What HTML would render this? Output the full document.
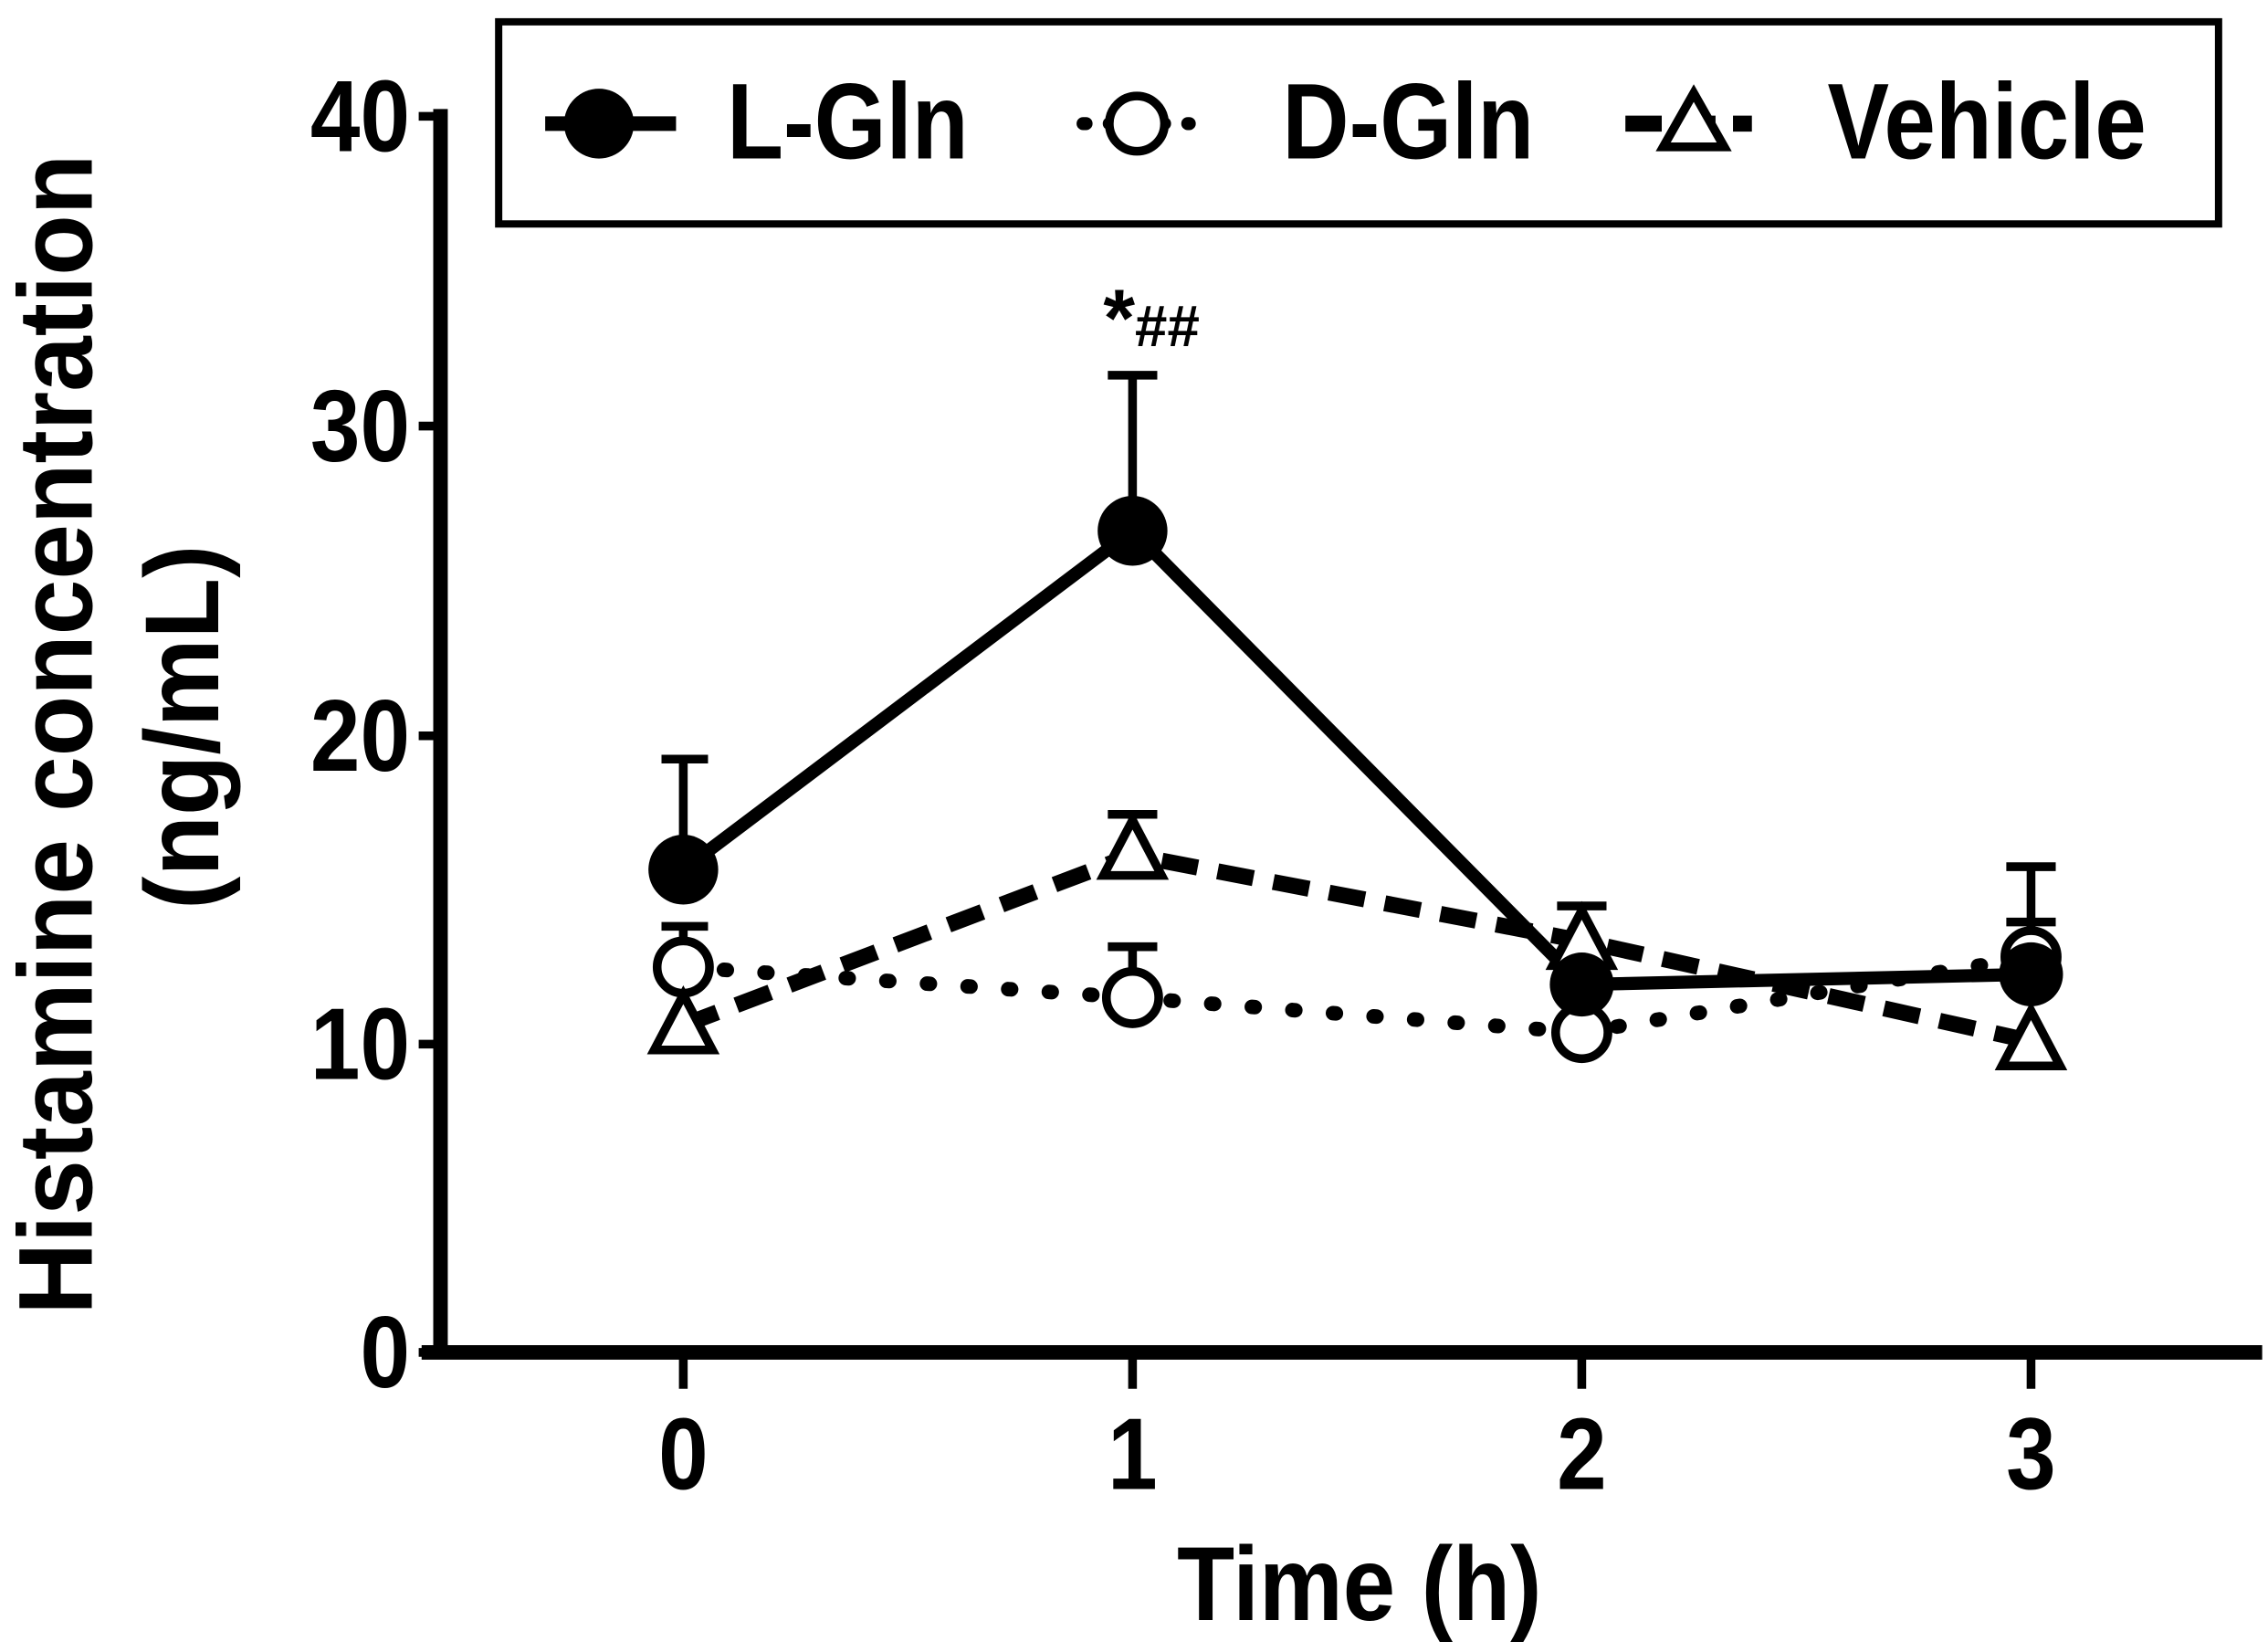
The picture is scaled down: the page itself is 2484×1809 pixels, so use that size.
<!DOCTYPE html>
<html><head><style>html,body{margin:0;padding:0;background:#fff}svg{display:block}</style></head>
<body>
<svg width="2484" height="1809" viewBox="0 0 1560 1136" preserveAspectRatio="none" xmlns="http://www.w3.org/2000/svg" font-family="Liberation Sans, sans-serif" font-weight="bold">
<rect width="1560" height="1136" fill="#fff"/>
<!-- legend -->
<rect x="343" y="15" width="1183" height="139" fill="none" stroke="#000" stroke-width="5"/>
<line x1="375" y1="85" x2="465" y2="85" stroke="#000" stroke-width="10"/>
<circle cx="412" cy="85" r="24" fill="#000"/>
<text x="500" y="109" font-size="74" transform="translate(500,0) scale(0.86,1) translate(-500,0)">L-Gln</text>
<line x1="745" y1="85" x2="818" y2="85" stroke="#000" stroke-width="9" stroke-dasharray="2 16" stroke-linecap="round"/>
<circle cx="782" cy="85" r="19" fill="#fff" stroke="#000" stroke-width="6"/>
<text x="882" y="109" font-size="74" transform="translate(882,0) scale(0.86,1) translate(-882,0)">D-Gln</text>
<line x1="1118" y1="85" x2="1205" y2="85" stroke="#000" stroke-width="11" stroke-dasharray="25 12"/>
<polygon points="1165,64 1186,101 1144,101" fill="#fff" stroke="#000" stroke-width="6"/>
<text x="1257" y="109" font-size="74" transform="translate(1257,0) scale(0.86,1) translate(-1257,0)">Vehicle</text>
<!-- axes -->
<line x1="303" y1="75" x2="303" y2="934" stroke="#000" stroke-width="10"/>
<line x1="290" y1="930" x2="1556" y2="930" stroke="#000" stroke-width="10"/>
<g stroke="#000" stroke-width="6">
<line x1="288" y1="80" x2="303" y2="80"/><line x1="288" y1="293" x2="303" y2="293"/><line x1="288" y1="506" x2="303" y2="506"/><line x1="288" y1="718" x2="303" y2="718"/><line x1="288" y1="930" x2="303" y2="930"/>
<line x1="470" y1="930" x2="470" y2="955"/><line x1="779" y1="930" x2="779" y2="955"/><line x1="1088" y1="930" x2="1088" y2="955"/><line x1="1397" y1="930" x2="1397" y2="955"/>
</g>
<g font-size="70" text-anchor="end" transform="translate(282,0) scale(0.88,1) translate(-282,0)">
<text x="282" y="104">40</text><text x="282" y="317">30</text><text x="282" y="530">20</text><text x="282" y="742">10</text><text x="282" y="954">0</text>
</g>
<g font-size="70" text-anchor="middle">
<text x="470" y="1024" transform="translate(470,0) scale(0.88,1) translate(-470,0)">0</text>
<text x="779" y="1024" transform="translate(779,0) scale(0.88,1) translate(-779,0)">1</text>
<text x="1088" y="1024" transform="translate(1088,0) scale(0.88,1) translate(-1088,0)">2</text>
<text x="1397" y="1024" transform="translate(1397,0) scale(0.88,1) translate(-1397,0)">3</text>
<text x="935" y="1114" font-size="72" transform="translate(935,0) scale(0.9,1) translate(-935,0)">Time (h)</text>
</g>
<text transform="translate(63,505) rotate(-90) scale(0.95,1)" font-size="72" text-anchor="middle">Histamine concentration</text>
<text transform="translate(150,500) rotate(-90) scale(0.95,1)" font-size="72" text-anchor="middle">(ng/mL)</text>
<text x="792" y="238" font-size="56" text-anchor="middle">*<tspan font-size="40">##</tspan></text>
<!-- error bars -->
<g stroke="#000" stroke-width="6">
<line x1="470" y1="598" x2="470" y2="522"/><line x1="455" y1="522" x2="487" y2="522"/>
<line x1="779" y1="365" x2="779" y2="258"/><line x1="762" y1="258" x2="796" y2="258"/>
<line x1="1397" y1="670" x2="1397" y2="596"/><line x1="1380" y1="596" x2="1414" y2="596"/>
<line x1="470" y1="665" x2="470" y2="637"/><line x1="455" y1="637" x2="487" y2="637"/>
<line x1="779" y1="686" x2="779" y2="651"/><line x1="762" y1="651" x2="796" y2="651"/>
<line x1="1397" y1="658" x2="1397" y2="634"/><line x1="1380" y1="634" x2="1414" y2="634"/>
<line x1="779" y1="588" x2="779" y2="560"/><line x1="762" y1="560" x2="796" y2="560"/>
<line x1="1088" y1="647" x2="1088" y2="623"/><line x1="1071" y1="623" x2="1105" y2="623"/>
</g>
<!-- lines -->
<polyline points="470,705 779,588 1088,647 1397,716" fill="none" stroke="#000" stroke-width="11" stroke-dasharray="25 14"/>
<polyline points="470,665 779,686 1088,710 1397,658" fill="none" stroke="#000" stroke-width="10" stroke-dasharray="2 26" stroke-linecap="round"/>
<polyline points="470,598 779,365 1088,677 1397,670" fill="none" stroke="#000" stroke-width="9"/>
<!-- markers -->
<g fill="#fff" stroke="#000" stroke-width="6">
<circle cx="470" cy="665" r="18"/><circle cx="779" cy="686" r="18"/><circle cx="1088" cy="710" r="18"/><circle cx="1397" cy="658" r="18"/>
<polygon points="470,684 490,722 450,722"/><polygon points="779,564 799,602 759,602"/><polygon points="1088,626 1108,664 1068,664"/><polygon points="1397,695 1417,733 1377,733"/>
</g>
<g fill="#000">
<circle cx="470" cy="598" r="24"/><circle cx="779" cy="365" r="24"/><circle cx="1088" cy="677" r="22"/><circle cx="1397" cy="670" r="22"/>
</g>
</svg>
</body></html>
